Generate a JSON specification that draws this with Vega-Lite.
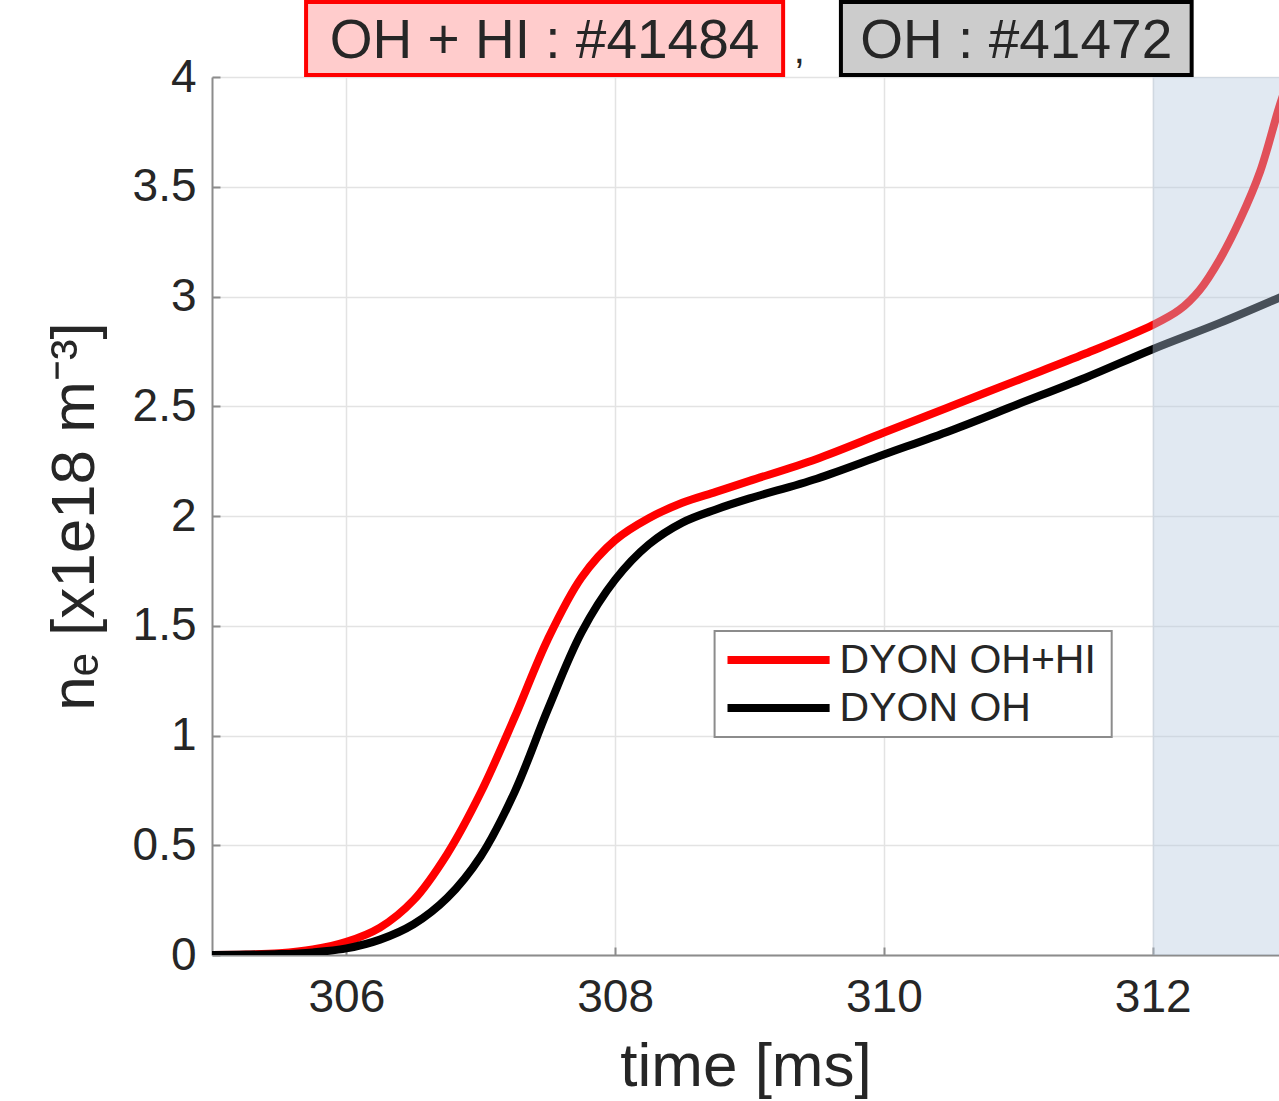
{
  "$schema": "https://vega.github.io/schema/vega-lite/v6.json",
  "autosize": "none",
  "width": 1067,
  "height": 878,
  "padding": {"left": 212, "top": 77, "right": 0, "bottom": 146},
  "background": "white",
  "config": {
    "view": {"stroke": null},
    "font": "Liberation Sans",
    "axis": {
      "labelFont": "Liberation Sans",
      "titleFont": "Liberation Sans",
      "labelColor": "#262626",
      "titleColor": "#262626",
      "titleFontWeight": "normal",
      "domainColor": "#8c8c8c",
      "domainWidth": 2,
      "gridColor": "#e3e3e3",
      "gridWidth": 1.5,
      "ticks": true,
      "tickSize": -8,
      "tickColor": "#8c8c8c",
      "tickWidth": 2
    }
  },
  "datasets": {
    "curves": [
      {"t": 305.0, "v": 0.0, "s": "DYON OH+HI"},
      {"t": 305.25, "v": 0.002, "s": "DYON OH+HI"},
      {"t": 305.5, "v": 0.008, "s": "DYON OH+HI"},
      {"t": 305.75, "v": 0.025, "s": "DYON OH+HI"},
      {"t": 306.0, "v": 0.06, "s": "DYON OH+HI"},
      {"t": 306.25, "v": 0.125, "s": "DYON OH+HI"},
      {"t": 306.5, "v": 0.25, "s": "DYON OH+HI"},
      {"t": 306.75, "v": 0.46, "s": "DYON OH+HI"},
      {"t": 307.0, "v": 0.74, "s": "DYON OH+HI"},
      {"t": 307.25, "v": 1.08, "s": "DYON OH+HI"},
      {"t": 307.5, "v": 1.44, "s": "DYON OH+HI"},
      {"t": 307.75, "v": 1.72, "s": "DYON OH+HI"},
      {"t": 308.0, "v": 1.89, "s": "DYON OH+HI"},
      {"t": 308.25, "v": 1.99, "s": "DYON OH+HI"},
      {"t": 308.5, "v": 2.06, "s": "DYON OH+HI"},
      {"t": 308.75, "v": 2.11, "s": "DYON OH+HI"},
      {"t": 309.0, "v": 2.16, "s": "DYON OH+HI"},
      {"t": 309.5, "v": 2.26, "s": "DYON OH+HI"},
      {"t": 310.0, "v": 2.38, "s": "DYON OH+HI"},
      {"t": 310.5, "v": 2.5, "s": "DYON OH+HI"},
      {"t": 311.0, "v": 2.62, "s": "DYON OH+HI"},
      {"t": 311.5, "v": 2.74, "s": "DYON OH+HI"},
      {"t": 312.0, "v": 2.87, "s": "DYON OH+HI"},
      {"t": 312.2, "v": 2.94, "s": "DYON OH+HI"},
      {"t": 312.35, "v": 3.03, "s": "DYON OH+HI"},
      {"t": 312.5, "v": 3.17, "s": "DYON OH+HI"},
      {"t": 312.65, "v": 3.35, "s": "DYON OH+HI"},
      {"t": 312.8, "v": 3.57, "s": "DYON OH+HI"},
      {"t": 312.94, "v": 3.86, "s": "DYON OH+HI"},
      {"t": 313.0, "v": 3.97, "s": "DYON OH+HI"},
      {"t": 305.0, "v": 0.0, "s": "DYON OH"},
      {"t": 305.5, "v": 0.004, "s": "DYON OH"},
      {"t": 305.75, "v": 0.012, "s": "DYON OH"},
      {"t": 306.0, "v": 0.03, "s": "DYON OH"},
      {"t": 306.25, "v": 0.07, "s": "DYON OH"},
      {"t": 306.5, "v": 0.14, "s": "DYON OH"},
      {"t": 306.75, "v": 0.26, "s": "DYON OH"},
      {"t": 307.0, "v": 0.45, "s": "DYON OH"},
      {"t": 307.25, "v": 0.74, "s": "DYON OH"},
      {"t": 307.5, "v": 1.12, "s": "DYON OH"},
      {"t": 307.75, "v": 1.47, "s": "DYON OH"},
      {"t": 308.0, "v": 1.71, "s": "DYON OH"},
      {"t": 308.25, "v": 1.87, "s": "DYON OH"},
      {"t": 308.5, "v": 1.97, "s": "DYON OH"},
      {"t": 308.75, "v": 2.03, "s": "DYON OH"},
      {"t": 309.0, "v": 2.08, "s": "DYON OH"},
      {"t": 309.5, "v": 2.17, "s": "DYON OH"},
      {"t": 310.0, "v": 2.28, "s": "DYON OH"},
      {"t": 310.5, "v": 2.39, "s": "DYON OH"},
      {"t": 311.0, "v": 2.51, "s": "DYON OH"},
      {"t": 311.5, "v": 2.63, "s": "DYON OH"},
      {"t": 312.0, "v": 2.76, "s": "DYON OH"},
      {"t": 312.5, "v": 2.88, "s": "DYON OH"},
      {"t": 313.0, "v": 3.01, "s": "DYON OH"}
    ],
    "shade": [{"t": 312, "t2": 313.5, "v": 0, "v2": 4}],
    "boxes": [
      {"t": 305.7, "t2": 309.25, "v": 4.009, "v2": 4.342, "fill": "#ffcccc", "edge": "#ff0000", "label": "OH + HI : #41484", "tc": 307.475},
      {"t": 309.68, "t2": 312.29, "v": 4.009, "v2": 4.342, "fill": "#cccccc", "edge": "#000000", "label": "OH : #41472", "tc": 310.985}
    ],
    "comma": [{"t": 309.37, "v": 4.12, "label": ","}],
    "legendbox": [{"t": 308.74, "t2": 311.695, "v": 0.993, "v2": 1.476}],
    "legenditems": [
      {"t": 308.836, "t2": 309.596, "tl": 309.67, "v": 1.344, "s": "DYON OH+HI"},
      {"t": 308.836, "t2": 309.596, "tl": 309.67, "v": 1.125, "s": "DYON OH"}
    ]
  },
  "encoding": {
    "x": {"type": "quantitative"},
    "y": {"type": "quantitative"}
  },
  "layer": [
    {
      "data": {"name": "curves"},
      "mark": {"type": "line", "strokeWidth": 8, "interpolate": "catmull-rom", "clip": true},
      "encoding": {
        "x": {
          "field": "t", "type": "quantitative",
          "scale": {"domain": [305, 312.94], "nice": false, "zero": false},
          "axis": {
            "values": [306, 308, 310, 312],
            "format": "d",
            "title": "time [ms]",
            "labelFontSize": 46,
            "labelPadding": 28,
            "titleFontSize": 62,
            "titlePadding": 16,
            "grid": true
          }
        },
        "y": {
          "field": "v", "type": "quantitative",
          "scale": {"domain": [0, 4], "nice": false},
          "axis": {
            "values": [0, 0.5, 1, 1.5, 2, 2.5, 3, 3.5, 4],
            "format": ".1~f",
            "title": "nₑ [x1e18 m⁻³]",
            "labelFontSize": 46,
            "labelPadding": 24,
            "titleFontSize": 62,
            "titlePadding": 26,
            "grid": true
          }
        },
        "color": {
          "field": "s", "type": "nominal",
          "scale": {"domain": ["DYON OH+HI", "DYON OH"], "range": ["#ff0000", "#000000"]},
          "legend": null
        }
      }
    },
    {
      "data": {"name": "shade"},
      "mark": {"type": "rect", "color": "#b4c8de", "opacity": 0.4, "clip": true},
      "encoding": {
        "x": {"field": "t", "type": "quantitative"},
        "x2": {"field": "t2"},
        "y": {"field": "v", "type": "quantitative"},
        "y2": {"field": "v2"}
      }
    },
    {
      "data": {"name": "legendbox"},
      "mark": {"type": "rect", "fill": "white", "stroke": "#8c8c8c", "strokeWidth": 2},
      "encoding": {
        "x": {"field": "t", "type": "quantitative"},
        "x2": {"field": "t2"},
        "y": {"field": "v", "type": "quantitative"},
        "y2": {"field": "v2"}
      }
    },
    {
      "data": {"name": "legenditems"},
      "mark": {"type": "rule", "strokeWidth": 8},
      "encoding": {
        "x": {"field": "t", "type": "quantitative"},
        "x2": {"field": "t2"},
        "y": {"field": "v", "type": "quantitative"},
        "color": {"field": "s", "type": "nominal", "legend": null}
      }
    },
    {
      "data": {"name": "legenditems"},
      "mark": {"type": "text", "fontSize": 41, "font": "Liberation Sans", "color": "#262626", "align": "left", "baseline": "middle", "dy": 1},
      "encoding": {
        "x": {"field": "tl", "type": "quantitative"},
        "y": {"field": "v", "type": "quantitative"},
        "text": {"field": "s"}
      }
    },
    {
      "data": {"name": "boxes"},
      "mark": {"type": "rect", "strokeWidth": 4, "clip": false},
      "encoding": {
        "x": {"field": "t", "type": "quantitative"},
        "x2": {"field": "t2"},
        "y": {"field": "v", "type": "quantitative"},
        "y2": {"field": "v2"},
        "fill": {"field": "fill", "type": "nominal", "scale": null},
        "stroke": {"field": "edge", "type": "nominal", "scale": null}
      }
    },
    {
      "data": {"name": "boxes"},
      "mark": {"type": "text", "fontSize": 55, "font": "Liberation Sans", "color": "#262626", "align": "center", "baseline": "middle", "clip": false, "dy": 2},
      "encoding": {
        "x": {"field": "tc", "type": "quantitative"},
        "y": {"value": -38},
        "text": {"field": "label"}
      }
    },
    {
      "data": {"name": "comma"},
      "mark": {"type": "text", "fontSize": 40, "font": "Liberation Sans", "color": "#262626", "align": "center", "baseline": "middle", "clip": false},
      "encoding": {
        "x": {"field": "t", "type": "quantitative"},
        "y": {"field": "v", "type": "quantitative"},
        "text": {"field": "label"}
      }
    }
  ]
}
